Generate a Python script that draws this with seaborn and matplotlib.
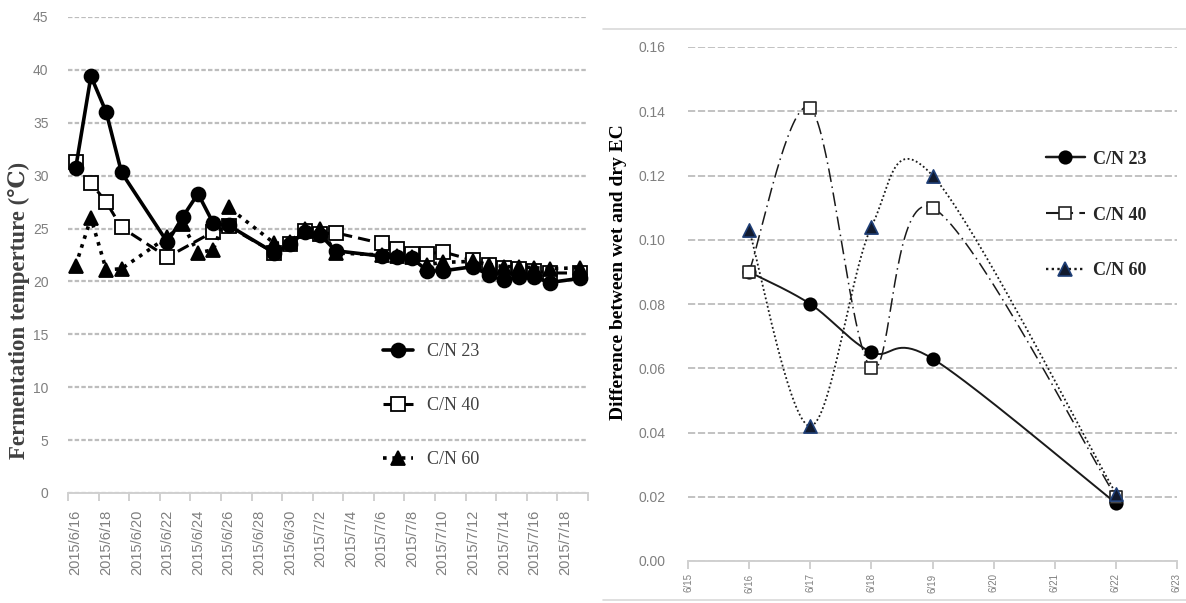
import numpy as np
import pandas as pd
import matplotlib
matplotlib.use("Agg")
import matplotlib.pyplot as plt
from matplotlib.lines import Line2D
import seaborn as sns

# ---------------- data ----------------
temp_dates = ["2015-06-16", "2015-06-17", "2015-06-18", "2015-06-19", "2015-06-22",
              "2015-06-23", "2015-06-24", "2015-06-25", "2015-06-26", "2015-06-29",
              "2015-06-30", "2015-07-01", "2015-07-02", "2015-07-03", "2015-07-06",
              "2015-07-07", "2015-07-08", "2015-07-09", "2015-07-10", "2015-07-12",
              "2015-07-13", "2015-07-14", "2015-07-15", "2015-07-16", "2015-07-17",
              "2015-07-19"]
cn23_temp = [30.7, 39.4, 36.0, 30.3, 23.7, 26.1, 28.3, 25.5, 25.3, 22.7, 23.5, 24.7, 24.4,
             22.9, 22.4, 22.3, 22.2, 21.0, 21.0, 21.4, 20.6, 20.1, 20.4, 20.4, 19.9, 20.3]
cn40_temp = [31.3, 29.3, 27.5, 25.1, 22.3, None, None, 24.7, 25.2, 22.7, 23.5, 24.8, 24.5,
             24.6, 23.6, 23.1, 22.6, 22.6, 22.8, 22.0, 21.6, 21.3, 21.2, 21.0, 20.8, 20.8]
cn60_temp = [21.5, 26.0, 21.1, 21.2, 24.2, 25.4, 22.7, 23.0, 27.0, 23.6, 23.7, 25.0, 25.0,
             22.7, 22.5, 22.4, 22.3, 21.6, 21.8, 21.9, 21.6, 21.4, 21.4, 21.3, 21.2, 21.3]

ec_days = [16, 17, 18, 19, 22]
cn23_ec = [0.090, 0.080, 0.065, 0.063, 0.018]
cn40_ec = [0.090, 0.141, 0.060, 0.110, 0.020]
cn60_ec = [0.103, 0.042, 0.104, 0.120, 0.021]

series_labels = ["C/N 23", "C/N 40", "C/N 60"]
left_ylabel = "Fermentation temperture (\u2103)"
right_ylabel = "Difference between wet and dry EC"

# ---------------- style ----------------
sns.set_theme(style="white")
plt.rcParams["font.family"] = ["Liberation Sans", "DejaVu Sans"]
SERIF = ["Liberation Serif", "DejaVu Serif"]
TICK_C = "#7f7f7f"
GRID_C = "#bdbdbd"

fig = plt.figure(figsize=(11.86, 6.03), dpi=100)
W, H = 1186, 603

def px_axes(l, t, r, b):
    return fig.add_axes([l / W, 1 - b / H, (r - l) / W, (b - t) / H])

# ================= LEFT PANEL =================
axL = px_axes(68, 17, 588, 493)
df = pd.DataFrame({"date": pd.to_datetime(temp_dates),
                   "cn23": cn23_temp, "cn40": cn40_temp, "cn60": cn60_temp})

left_styles = [
    dict(col="cn23", ls="-", lw=2.6, marker="o", ms=10, mfc="black", mec="black", z=4),
    dict(col="cn40", ls=(0, (4, 2)), lw=2.2, marker="s", ms=9.5, mfc="white", mec="black", z=3),
    dict(col="cn60", ls=(0, (1, 1.6)), lw=2.6, marker="^", ms=10, mfc="black", mec="black", z=5),
]
for st, lab in zip(left_styles, series_labels):
    sub = df[["date", st["col"]]].dropna()
    sns.lineplot(data=sub, x="date", y=st["col"], ax=axL, color="black",
                 linestyle=st["ls"], linewidth=st["lw"], marker=st["marker"],
                 markersize=st["ms"], markerfacecolor=st["mfc"], markeredgecolor=st["mec"],
                 markeredgewidth=1.3, label=lab, sort=True, estimator=None, zorder=st["z"])

axL.set_xlim(pd.Timestamp("2015-06-15 12:00"), pd.Timestamp("2015-07-19 12:00"))
axL.set_ylim(0, 45)
axL.set_yticks(np.arange(0, 46, 5))
axL.yaxis.grid(True, color=GRID_C, linestyle=(0, (2, 1)), linewidth=1.6)
axL.xaxis.grid(False)
for s in ["top", "right", "left"]:
    axL.spines[s].set_visible(False)
axL.spines["bottom"].set_color("#d0d0d0")
axL.spines["bottom"].set_linewidth(1.4)
major = pd.date_range("2015-06-16", "2015-07-18", freq="2D")
minor = pd.date_range("2015-06-15 12:00", "2015-07-19 12:00", freq="2D")
axL.set_xticks(major)
axL.set_xticklabels([f"{d.year}/{d.month}/{d.day}" for d in major])
axL.set_xticks(minor, minor=True)
axL.tick_params(axis="x", which="major", length=0, pad=12, labelsize=10.5,
                labelcolor=TICK_C, rotation=90)
axL.tick_params(axis="x", which="minor", length=6, width=1.2, color="#c8c8c8", bottom=True)
axL.tick_params(axis="y", length=0, pad=14, labelsize=10, labelcolor=TICK_C)
axL.set_xlabel("")
axL.set_ylabel("")
axL.legend(loc="center left", bbox_to_anchor=(0.575, 0.183), frameon=False,
           prop={"family": SERIF, "size": 13}, labelcolor="#404040",
           handlelength=1.65, handletextpad=0.8, labelspacing=2.05, numpoints=1)
fig.text(19 / W, 1 - 310 / H, left_ylabel, rotation=90, ha="center", va="center",
         family=SERIF, fontweight="bold", fontsize=16.5, color="#404040")

# ================= RIGHT PANEL =================
axR = px_axes(688, 47, 1177, 561)

def excel_smooth(xs, ys, n=40):
    P = np.column_stack([np.asarray(xs, float), np.asarray(ys, float)])
    out = [P[0]]
    t = np.linspace(0, 1, n)[1:, None]
    for i in range(len(P) - 1):
        p0 = P[i - 1] if i > 0 else P[i]
        p1, p2 = P[i], P[i + 1]
        p3 = P[i + 2] if i + 2 < len(P) else P[i + 1]
        c1 = p1 + (p2 - p0) / 6
        c2 = p2 - (p3 - p1) / 6
        seg = (1 - t) ** 3 * p1 + 3 * (1 - t) ** 2 * t * c1 + 3 * (1 - t) * t ** 2 * c2 + t ** 3 * p2
        out.extend(seg)
    return np.array(out)

right_styles = [
    dict(vals=cn23_ec, ls="-", lw=1.4, lc="#1a1a1a", marker="o", ms=9, mfc="black", mec="black"),
    dict(vals=cn40_ec, ls=(0, (9, 3, 1, 3)), lw=1.1, lc="#1a1a1a", marker="s", ms=8.5,
         mfc="white", mec="#222222"),
    dict(vals=cn60_ec, ls=(0, (1, 1.4)), lw=1.3, lc="#1a1a1a", marker="^", ms=9.5,
         mfc="#111a2e", mec="#1f3f77"),
]
handles = []
for st, lab in zip(right_styles, series_labels):
    curve = excel_smooth(ec_days, st["vals"])
    cdf = pd.DataFrame({"x": curve[:, 0], "y": curve[:, 1]})
    sns.lineplot(data=cdf, x="x", y="y", ax=axR, color=st["lc"], linestyle=st["ls"],
                 linewidth=st["lw"], sort=False, estimator=None)
    pdf = pd.DataFrame({"x": ec_days, "y": st["vals"]})
    sns.scatterplot(data=pdf, x="x", y="y", ax=axR, marker=st["marker"],
                    s=st["ms"] ** 2, color=st["mfc"], edgecolor=st["mec"], linewidth=1.2,
                    zorder=5)
    handles.append(Line2D([], [], color=st["lc"], linestyle=st["ls"], linewidth=st["lw"] + 0.4,
                          marker=st["marker"], markersize=st["ms"], markerfacecolor=st["mfc"],
                          markeredgecolor=st["mec"], markeredgewidth=1.2))

axR.set_xlim(15, 23)
axR.set_ylim(0, 0.16)
axR.set_yticks(np.arange(0, 0.161, 0.02))
axR.set_yticklabels([f"{v:.2f}" for v in np.arange(0, 0.161, 0.02)])
axR.set_xticks(range(15, 24))
axR.set_xticklabels([f"6/{d}" for d in range(15, 24)])
axR.yaxis.grid(True, color=GRID_C, linestyle=(0, (4, 1.5)), linewidth=1.3)
axR.xaxis.grid(False)
for s in ["top", "right", "left"]:
    axR.spines[s].set_visible(False)
axR.spines["bottom"].set_color("#d0d0d0")
axR.spines["bottom"].set_linewidth(1.4)
axR.tick_params(axis="x", length=6, width=1.2, color="#c8c8c8", bottom=True, pad=3,
                labelsize=7, labelcolor=TICK_C, rotation=90)
axR.tick_params(axis="y", length=0, pad=16, labelsize=10, labelcolor=TICK_C)
axR.set_xlabel("")
axR.set_ylabel("")
axR.legend(handles, series_labels, loc="center left", bbox_to_anchor=(0.698, 0.673),
           frameon=False, prop={"family": SERIF, "size": 13, "weight": "bold"},
           labelcolor="#262626", handlelength=2.2, handletextpad=0.45, labelspacing=2.15,
           numpoints=1)
fig.text(619 / W, 1 - 272 / H, right_ylabel, rotation=90, ha="center", va="center",
         family=SERIF, fontweight="bold", fontsize=14, color="black")

# frame lines of the right chart area
fig.add_artist(Line2D([603 / W, 1], [1 - 29 / H] * 2, transform=fig.transFigure,
                      color="#d9d9d9", linewidth=1.2))
fig.add_artist(Line2D([603 / W, 1], [1 - 600 / H] * 2, transform=fig.transFigure,
                      color="#d9d9d9", linewidth=1.2))

fig.savefig("out.png", dpi=100, facecolor="white")
